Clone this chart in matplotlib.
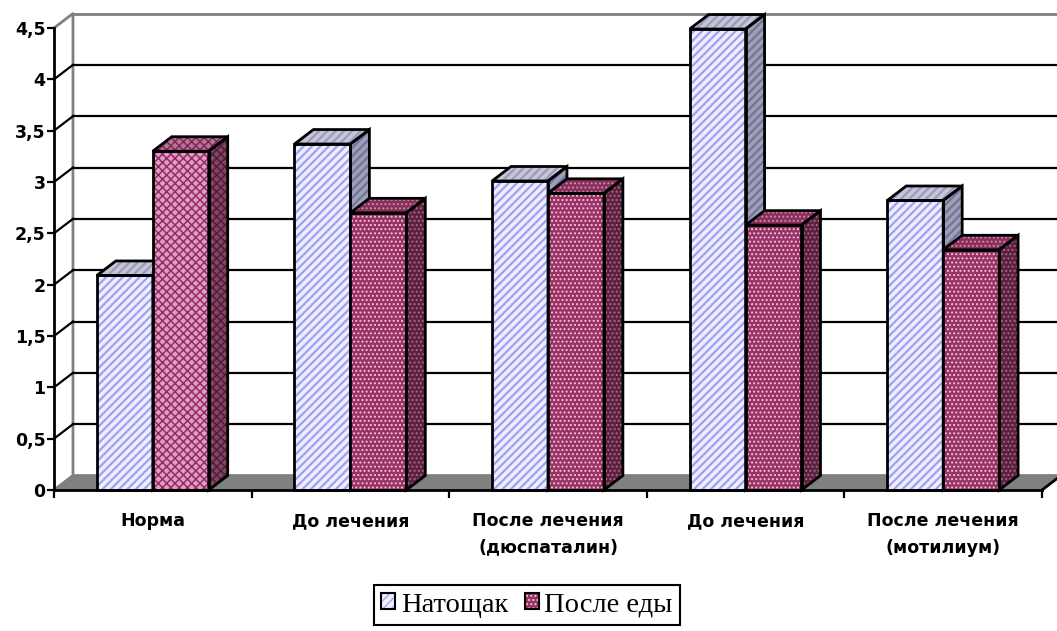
import numpy as np
import matplotlib
matplotlib.use('Agg')
import matplotlib.pyplot as plt
from matplotlib.patches import Polygon, Patch
from matplotlib.legend_handler import HandlerTuple

categories = ['Норма', 'До лечения', 'После лечения\n(дюспаталин)',
              'До лечения', 'После лечения\n(мотилиум)']
fasting = [2.09, 3.37, 3.01, 4.49, 2.82]      # Натощак
after_meal = [3.30, 2.70, 2.89, 2.58, 2.34]   # После еды
yticks = [0, 0.5, 1, 1.5, 2, 2.5, 3, 3.5, 4, 4.5]
ytick_labels = ['0', '0,5', '1', '1,5', '2', '2,5', '3', '3,5', '4', '4,5']
series_labels = ['Натощак', 'После еды']

# pseudo-3d depth offset (data units) and bar width
DX, DY = 0.096, 0.141
W = 0.283

# face styles: (front, top, side) -> (facecolor, hatchcolor)
STRIPE = dict(hatch='////', hlw=1.6,
              faces=[('#EEEEFF', '#A0A0F5'), ('#C6C6D4', '#9A9AC4'), ('#A0A0AE', '#7272A8')])
DOTS = dict(hatch='....', hlw=0.9,
            faces=[('#993366', '#F2C6DC'), ('#8A2E5C', '#C890AC'), ('#5E1F40', '#A27088')])
LATTICE = dict(hatch='xxxx', hlw=1.1,
               faces=[('#DBA0C0', '#9A2A66'), ('#B87496', '#7E2854'), ('#7E4864', '#561A3A')])

fig = plt.figure(figsize=(10.57, 6.31), dpi=100)
ax = fig.add_axes([54 / 1057, 141 / 631, 988 / 1057, 462 / 631])
ax.set_xlim(0, 5)
ax.set_ylim(0, 4.5)
ax.set_facecolor('none')


def face(verts, fc, hc, hatch, hlw, z):
    plt.rcParams['hatch.linewidth'] = hlw
    ax.add_patch(Polygon(verts, closed=True, facecolor=fc, edgecolor=hc, hatch=hatch,
                         lw=0, zorder=z, clip_on=False))
    ax.add_patch(Polygon(verts, closed=True, facecolor='none', edgecolor='black',
                         lw=2, joinstyle='miter', zorder=z + 0.1, clip_on=False))


def bar3d(x0, h, style, z):
    (ffc, fhc), (tfc, thc), (sfc, shc) = style['faces']
    x1 = x0 + W
    face([(x0, 0), (x1, 0), (x1, h), (x0, h)], ffc, fhc, style['hatch'], style['hlw'], z)
    face([(x0, h), (x1, h), (x1 + DX, h + DY), (x0 + DX, h + DY)],
         tfc, thc, style['hatch'], style['hlw'], z)
    face([(x1, 0), (x1 + DX, DY), (x1 + DX, h + DY), (x1, h)],
         sfc, shc, style['hatch'], style['hlw'], z)


# back wall, floor and gridlines
ax.add_patch(Polygon([(0, 0), (5, 0), (5 + DX, DY), (DX, DY)], closed=True,
                     facecolor='#808080', edgecolor='none', zorder=1, clip_on=False))
for v in yticks[1:-1]:
    ax.plot([DX, 5 + DX], [v + DY, v + DY], color='black', lw=1.6, zorder=1.5, clip_on=False)
    ax.plot([0, DX], [v, v + DY], color='black', lw=1.6, zorder=1.5, clip_on=False)
ax.plot([0, DX, DX, 5 + DX], [4.5, 4.5 + DY, DY, DY], color='#808080', lw=2,
        zorder=1.4, clip_on=False)
ax.plot([0, DX], [0, DY], color='#808080', lw=2, zorder=1.4, clip_on=False)
ax.plot([DX, 5 + DX], [4.5 + DY, 4.5 + DY], color='#808080', lw=2, zorder=1.4, clip_on=False)
ax.plot([5, 5 + DX], [0, DY], color='black', lw=2, zorder=1.6, clip_on=False)

z = 3
for i in range(len(categories)):
    bar3d(i + 0.5 - W, fasting[i], STRIPE, z)
    bar3d(i + 0.5, after_meal[i], LATTICE if i == 0 else DOTS, z + 1)
    z += 2

# axes
for s in ['top', 'right']:
    ax.spines[s].set_visible(False)
ax.spines['left'].set_linewidth(2)
ax.spines['bottom'].set_linewidth(2)
ax.spines['left'].set_zorder(2)
ax.spines['bottom'].set_zorder(20)
ax.set_yticks(yticks)
ax.set_yticklabels(ytick_labels, fontsize=12.5, fontweight='bold', family='DejaVu Sans')
ax.tick_params(axis='y', length=5, width=1.6, pad=1)
ax.set_xticks(range(6))
ax.set_xticklabels([])
ax.tick_params(axis='x', which='major', length=6, width=1.6)
ax.set_xticks(np.arange(5) + 0.5, minor=True)
ax.set_xticklabels(categories, minor=True, fontsize=12.5, fontweight='bold',
                   family='DejaVu Sans', linespacing=1.6)
ax.tick_params(axis='x', which='minor', length=0, pad=16)

# legend
plt.rcParams['hatch.linewidth'] = 1.6
h1 = (Patch(facecolor='#EEEEFF', edgecolor='#A0A0F5', hatch='////', lw=0),
      Patch(facecolor='none', edgecolor='black', lw=1.5))
plt.rcParams['hatch.linewidth'] = 0.9
h2 = (Patch(facecolor='#993366', edgecolor='#F2C6DC', hatch='....', lw=0),
      Patch(facecolor='none', edgecolor='black', lw=1.5))
leg = fig.legend([h1, h2], series_labels, handler_map={tuple: HandlerTuple(ndivide=1)},
                 loc='center', bbox_to_anchor=(527 / 1057, 1 - 605 / 631), ncol=2,
                 prop={'family': 'Liberation Serif', 'size': 20.5},
                 frameon=True, fancybox=False, edgecolor='black', framealpha=1,
                 handlelength=0.48, handleheight=0.48, handletextpad=0.2,
                 columnspacing=0.6, borderpad=0.25, borderaxespad=0)
leg.get_frame().set_linewidth(1.5)

fig.savefig('out.png', dpi=100)
